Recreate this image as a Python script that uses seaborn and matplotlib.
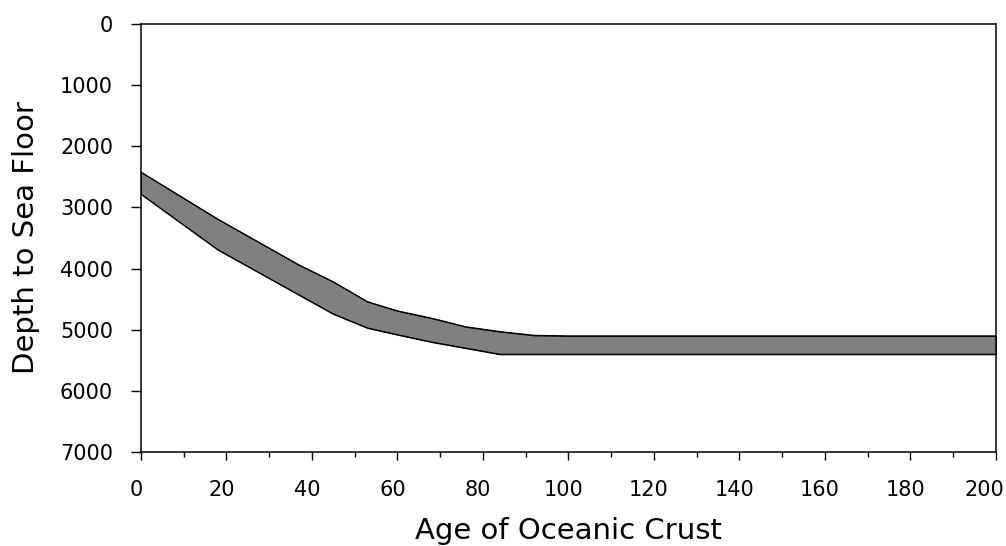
import numpy as np
import pandas as pd
import matplotlib
matplotlib.use("Agg")
import matplotlib.pyplot as plt
import matplotlib.transforms as mtransforms
import seaborn as sns
from matplotlib.ticker import MultipleLocator

sns.set_style("white")
plt.rcParams["font.family"] = ["DejaVu Sans"]
plt.rcParams["text.color"] = "black"
plt.rcParams["axes.labelcolor"] = "black"
plt.rcParams["xtick.color"] = "black"
plt.rcParams["ytick.color"] = "black"

# Values
age = [0, 18, 37, 45, 53, 60, 68, 76, 84, 92, 100, 200]
depth_top = [2420, 3190, 3940, 4215, 4540, 4690, 4810, 4950, 5030, 5090, 5100, 5100]
depth_bottom = [2780, 3690, 4430, 4740, 4970, 5080, 5200, 5300, 5400, 5400, 5400, 5400]
x_ticks = list(range(0, 201, 20))
y_ticks = list(range(0, 7001, 1000))

df = pd.DataFrame({"age": age, "top": depth_top, "bottom": depth_bottom})

fig = plt.figure(figsize=(10.06, 5.46), dpi=100)
ax = fig.add_axes([0.140, 0.172, 0.850, 0.784])

ax.fill_between(df["age"], df["top"], df["bottom"], facecolor="#808080",
                edgecolor="black", linewidth=0.8)
sns.lineplot(data=df, x="age", y="top", color="black", linewidth=0.8, ax=ax)
sns.lineplot(data=df, x="age", y="bottom", color="black", linewidth=0.8, ax=ax)

ax.set_xlim(0, 200)
ax.set_ylim(7000, 0)
ax.set_xticks(x_ticks)
ax.set_yticks(y_ticks)
ax.xaxis.set_minor_locator(MultipleLocator(10))

for s in ax.spines.values():
    s.set_visible(True)
    s.set_color("black")
    s.set_linewidth(1.1)

ax.tick_params(axis="x", which="major", direction="out", length=6, width=1,
               color="black", labelcolor="black", labelsize=15, pad=14, bottom=True)
ax.tick_params(axis="x", which="minor", direction="out", length=3.5, width=1,
               color="black", bottom=True)
ax.tick_params(axis="y", which="major", direction="out", length=7, width=1,
               color="black", labelcolor="black", labelsize=15, pad=13, left=True)

# x tick labels sit a little left of their ticks, the last one more so
labels = ax.get_xticklabels()
for i, lab in enumerate(labels):
    dx = -12 if i == len(labels) - 1 else -5
    lab.set_transform(lab.get_transform() +
                      mtransforms.ScaledTranslation(dx / 100, 0, fig.dpi_scale_trans))

ax.set_xlabel("Age of Oceanic Crust", fontsize=21, labelpad=12, color="black")
ax.set_ylabel("Depth to Sea Floor", fontsize=21, labelpad=14, color="black")

fig.savefig("out.png", dpi=100)
